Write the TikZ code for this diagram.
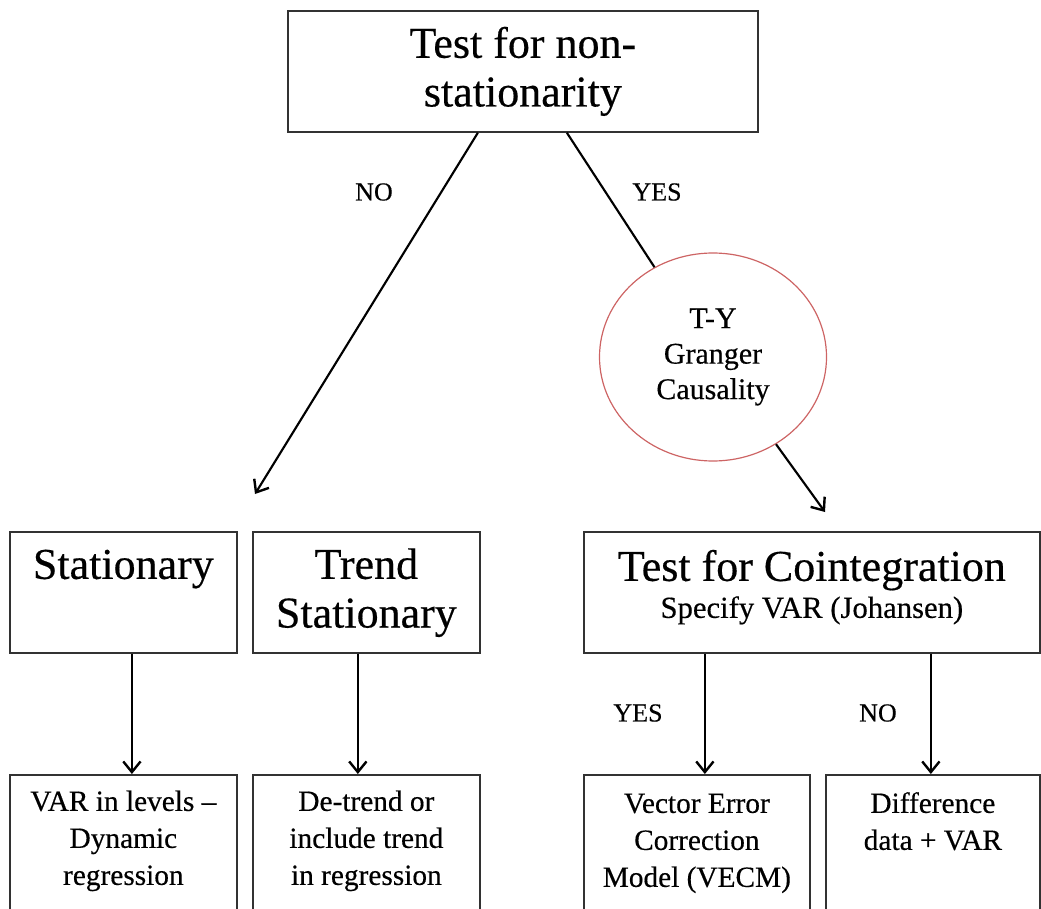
\documentclass[tikz,border=0pt]{standalone}
\usepackage{fontspec}
\setmainfont{Liberation Serif}[FakeBold=0.4]
\usetikzlibrary{arrows.meta,shapes.geometric}
\definecolor{boxgray}{RGB}{50,50,50}
\definecolor{ringred}{RGB}{205,100,100}
\newcommand{\bigfont}{\fontsize{33pt}{36.5pt}\selectfont}
\newcommand{\midfont}{\fontsize{22pt}{27.75pt}\selectfont}
\newcommand{\topalign}[4]{\parbox[t][#2][t]{#1}{\centering\rule{0pt}{#3}#4}}

\begin{document}
\begin{tikzpicture}[x=0.75pt,y=-0.75pt,
  box/.style={draw=boxgray, line width=1.3pt, inner sep=0pt, anchor=north west},
  arr/.style={line width=1.6pt, -{Straight Barb[length=8pt,width=13pt,line width=1.8pt]}},
  lbl/.style={font=\fontsize{19.5pt}{22pt}\selectfont}]
\path[use as bounding box, clip] (0,0) rectangle (1041,909);

% top question
\node[box, minimum width=352.5pt, minimum height=90.75pt, align=center, font=\bigfont] (nonstat) at (287,10) {Test for non-\\stationarity};
\node[draw=ringred, line width=0.9pt, ellipse, minimum width=170.25pt, minimum height=156pt, inner sep=0pt, align=center, font=\fontsize{22.5pt}{26.6pt}\selectfont] (granger) at (713,357) {T-Y\\Granger\\Causality};

% second row
\node[box, font=\bigfont] (stat) at (9,531) {\topalign{170.25pt}{90.75pt}{35.25pt}{Stationary}};
\node[box, font=\bigfont] (trend) at (252,531) {\topalign{170.25pt}{90.75pt}{35.25pt}{Trend\\Stationary}};
\node[box, font=\bigfont] (coint) at (583,531) {\topalign{342pt}{90.75pt}{36.75pt}{Test for Cointegration\\[-8.75pt]{\fontsize{23pt}{27.75pt}\selectfont Specify VAR (Johansen)}}};

% bottom row (cut off at the page edge)
\node[box, font=\midfont] (levels) at (9,774) {\topalign{170.25pt}{150pt}{27pt}{VAR in levels --\\Dynamic\\regression}};
\node[box, font=\midfont] (detrend) at (252,774) {\topalign{170.25pt}{150pt}{27pt}{De-trend or\\include trend\\in regression}};
\node[box, font=\midfont] (vecm) at (583,774) {\topalign{169.5pt}{150pt}{28.5pt}{Vector Error\\Correction\\Model (VECM)}};
\node[box, font=\midfont] (diff) at (825,774) {\topalign{160.5pt}{150pt}{28.5pt}{Difference\\data + VAR}};

\coordinate (noend) at (255,494);
\coordinate (yesend) at (825,512);
\coordinate (levelstop) at ([xshift=6.4pt]levels.north);
\coordinate (detrendtop) at ([xshift=-6.4pt]detrend.north);
\coordinate (vecmtop) at ([xshift=6pt]vecm.north);
\coordinate (difftop) at ([xshift=-1.5pt]diff.north);

\draw[arr] ([xshift=-33.75pt]nonstat.south) -- (noend);
\draw[line width=1.6pt] ([xshift=33pt]nonstat.south) -- (granger);
\draw[arr] (granger) -- (yesend);
\draw[arr] (stat.south -| levelstop) -- (levelstop);
\draw[arr] (trend.south -| detrendtop) -- (detrendtop);
\draw[arr] (coint.south -| vecmtop) -- (vecmtop);
\draw[arr] (coint.south -| difftop) -- (difftop);

\node[lbl] (no1) at (374,192) {NO};
\node[lbl] (yes1) at (657,192) {YES};
\node[lbl] (yes2) at (638,713) {YES};
\node[lbl] (no2) at (878,713) {NO};
\end{tikzpicture}
\end{document}
